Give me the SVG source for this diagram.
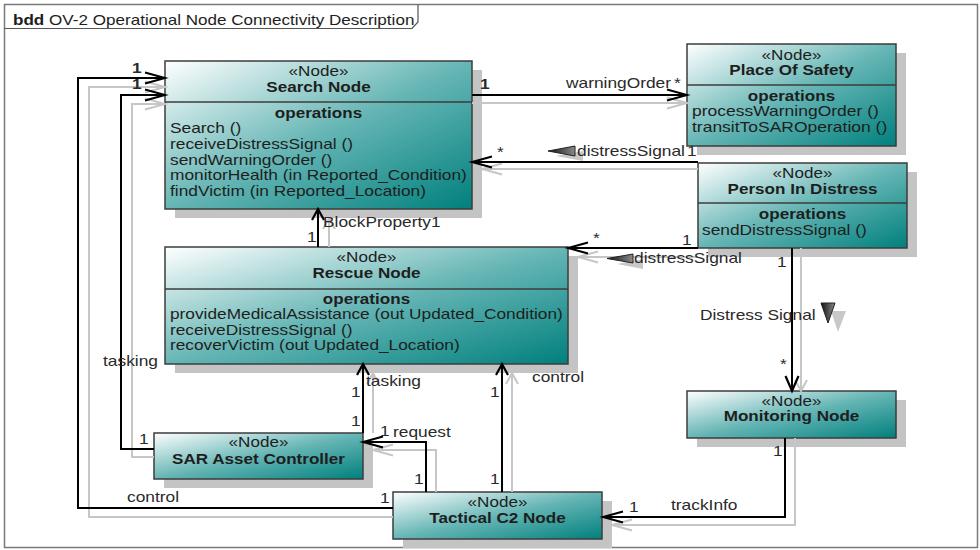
<svg xmlns="http://www.w3.org/2000/svg" width="980" height="550" viewBox="0 0 980 550">
<defs>
<linearGradient id="gNode" x1="0" y1="0" x2="1" y2="1">
<stop offset="0" stop-color="#ffffff"/>
<stop offset="0.5" stop-color="#66b6b5"/>
<stop offset="1" stop-color="#00807d"/>
</linearGradient>
<linearGradient id="gTri" x1="0" y1="0" x2="1" y2="0">
<stop offset="0" stop-color="#111111"/>
<stop offset="1" stop-color="#8a8a8a"/>
</linearGradient>
<marker id="ah" markerUnits="userSpaceOnUse" orient="auto" overflow="visible" refX="0" refY="0" markerWidth="1" markerHeight="1">
<path d="M-20,-5.5 L0,0 L-20,5.5" fill="none" stroke="#000" stroke-width="2"/>
</marker>
<marker id="av" markerUnits="userSpaceOnUse" orient="auto" overflow="visible" refX="0" refY="0" markerWidth="1" markerHeight="1">
<path d="M-11,-6 L0,0 L-11,6" fill="none" stroke="#000" stroke-width="2.2"/>
</marker>
<marker id="avl" markerUnits="userSpaceOnUse" orient="auto" overflow="visible" refX="0" refY="0" markerWidth="1" markerHeight="1">
<path d="M-15,-6.5 L0,0 L-15,6.5" fill="none" stroke="#000" stroke-width="2.2"/>
</marker>
<marker id="ahg" markerUnits="userSpaceOnUse" orient="auto" overflow="visible" refX="0" refY="0" markerWidth="1" markerHeight="1">
<path d="M-20,-5.5 L0,0 L-20,5.5" fill="none" stroke="#c6c6c6" stroke-width="2"/>
</marker>
<marker id="avg" markerUnits="userSpaceOnUse" orient="auto" overflow="visible" refX="0" refY="0" markerWidth="1" markerHeight="1">
<path d="M-11,-6 L0,0 L-11,6" fill="none" stroke="#c6c6c6" stroke-width="2"/>
</marker>
</defs>
<style>
.t { font-family: "Liberation Sans", Arial, sans-serif; font-size: 14px; fill: #1e1e1e; }
.b { font-weight: bold; }
.m { text-anchor: middle; }
.lbl { font-family: "Liberation Sans", Arial, sans-serif; font-size: 14px; fill: #2a2a2a; }
.box { fill: url(#gNode); stroke: #3c3c3c; stroke-width: 1.5; }
.shd { fill: #c4c4c4; }
.div { stroke: #3c3c3c; stroke-width: 1.5; }
.ln { fill: none; stroke: #000; stroke-width: 2; }
.sh { fill: none; stroke: #c6c6c6; stroke-width: 2; }
.tri { fill: url(#gTri); stroke: #222; stroke-width: 1; }
.trs { fill: #c8c8c8; }
</style>
<rect x="0" y="0" width="980" height="550" fill="#ffffff"/>
<g id="frame">
<rect x="4.5" y="4.5" width="973" height="543" fill="#ffffff" stroke="#7a7a7a" stroke-width="1.5"/>
<path d="M4.5,28.5 H412 L418,22 V4.5" fill="none" stroke="#555" stroke-width="1.2"/>
<text class="t" transform="translate(13 24.5) scale(1.22 1)"><tspan class="b">bdd</tspan> OV-2 Operational Node Connectivity Description</text>
</g>

<g id="node-search">
<rect class="shd" x="175" y="70" width="307" height="148"/>
<rect class="box" x="165" y="61" width="307" height="148"/>
<line class="div" x1="165" y1="102" x2="472" y2="102"/>
<text class="t m" transform="translate(318.5 76) scale(1.22 1)">«Node»</text>
<text class="t m b" transform="translate(318.5 92) scale(1.22 1)">Search Node</text>
<text class="t m b" transform="translate(318.5 117.5) scale(1.22 1)">operations</text>
<text class="t" transform="translate(170 133) scale(1.24 1)">Search ()</text>
<text class="t" transform="translate(170 148.75) scale(1.24 1)">receiveDistressSignal ()</text>
<text class="t" transform="translate(170 164.5) scale(1.24 1)">sendWarningOrder ()</text>
<text class="t" transform="translate(170 180.25) scale(1.24 1)">monitorHealth (in Reported_Condition)</text>
<text class="t" transform="translate(170 196) scale(1.24 1)">findVictim (in Reported_Location)</text>
</g>

<g id="node-safety">
<rect class="shd" x="697" y="53" width="209" height="102"/>
<rect class="box" x="687" y="44" width="209" height="102"/>
<line class="div" x1="687" y1="85" x2="896" y2="85"/>
<text class="t m" transform="translate(791.5 59.5) scale(1.22 1)">«Node»</text>
<text class="t m b" transform="translate(791.5 74.5) scale(1.22 1)">Place Of Safety</text>
<text class="t m b" transform="translate(791.5 100.5) scale(1.22 1)">operations</text>
<text class="t" transform="translate(692 116) scale(1.25 1)">processWarningOrder ()</text>
<text class="t" transform="translate(692 131.7) scale(1.25 1)">transitToSAROperation ()</text>
</g>

<g id="node-distress">
<rect class="shd" x="708" y="172" width="209" height="85"/>
<rect class="box" x="698" y="163" width="209" height="85"/>
<line class="div" x1="698" y1="203" x2="907" y2="203"/>
<text class="t m" transform="translate(802.5 178) scale(1.22 1)">«Node»</text>
<text class="t m b" transform="translate(802.5 193.5) scale(1.22 1)">Person In Distress</text>
<text class="t m b" transform="translate(802.5 218.5) scale(1.22 1)">operations</text>
<text class="t" transform="translate(702 235) scale(1.24 1)">sendDistressSignal ()</text>
</g>

<g id="node-rescue">
<rect class="shd" x="175" y="256" width="403" height="117"/>
<rect class="box" x="165" y="247" width="403" height="117"/>
<line class="div" x1="165" y1="289" x2="568" y2="289"/>
<text class="t m" transform="translate(366.5 262) scale(1.22 1)">«Node»</text>
<text class="t m b" transform="translate(366.5 277.7) scale(1.22 1)">Rescue Node</text>
<text class="t m b" transform="translate(366.5 303.5) scale(1.22 1)">operations</text>
<text class="t" transform="translate(170 319) scale(1.235 1)">provideMedicalAssistance (out Updated_Condition)</text>
<text class="t" transform="translate(170 334.5) scale(1.235 1)">receiveDistressSignal ()</text>
<text class="t" transform="translate(170 350) scale(1.235 1)">recoverVictim (out Updated_Location)</text>
</g>

<g id="node-sar">
<rect class="shd" x="164" y="442" width="209" height="46"/>
<rect class="box" x="154" y="433" width="209" height="46"/>
<text class="t m" transform="translate(258.5 447) scale(1.22 1)">«Node»</text>
<text class="t m b" transform="translate(258.5 463.5) scale(1.22 1)">SAR Asset Controller</text>
</g>

<g id="node-tactical">
<rect class="shd" x="403" y="501" width="209" height="47"/>
<rect class="box" x="393" y="492" width="209" height="47"/>
<text class="t m" transform="translate(497.5 507) scale(1.22 1)">«Node»</text>
<text class="t m b" transform="translate(497.5 523) scale(1.22 1)">Tactical C2 Node</text>
</g>

<g id="node-monitoring">
<rect class="shd" x="697" y="400" width="209" height="47"/>
<rect class="box" x="687" y="391" width="209" height="47"/>
<text class="t m" transform="translate(791.5 405.7) scale(1.22 1)">«Node»</text>
<text class="t m b" transform="translate(791.5 421) scale(1.22 1)">Monitoring Node</text>
</g>

<g id="connectors">
<g id="connector-shadows">
<polyline class="sh" points="393,517 89,517 89,87 165,87" marker-end="url(#ahg)"/>
<polyline class="sh" points="154,457 132,457 132,104 165,104" marker-end="url(#ahg)"/>
<polyline class="sh" points="472,103 687,103" marker-end="url(#ahg)"/>
<polyline class="sh" points="698,169 482,169" marker-end="url(#ahg)"/>
<polyline class="sh" points="698,257 578,257" marker-end="url(#ahg)"/>
<polyline class="sh" points="801,248 801,391" marker-end="url(#avg)"/>
<polyline class="sh" points="795,438 795,525 612,525" marker-end="url(#ahg)"/>
<polyline class="sh" points="329,247 329,218" marker-end="url(#avg)"/>
<polyline class="sh" points="373,433 373,373" marker-end="url(#avg)"/>
<polyline class="sh" points="436,492 436,450 373,450" marker-end="url(#ahg)"/>
<polyline class="sh" points="512,492 512,373" marker-end="url(#avg)"/>
</g>
<g id="connector-lines">
<polyline id="c-control-search" class="ln" points="393,508 78,508 78,78 165,78" marker-end="url(#ah)"/>
<polyline id="c-tasking-search" class="ln" points="154,449 121,449 121,95 165,95" marker-end="url(#ah)"/>
<polyline id="c-warningOrder" class="ln" points="472,95 687,95" marker-end="url(#ah)"/>
<polyline id="c-distress-search" class="ln" points="698,162 472,162" marker-end="url(#ah)"/>
<polyline id="c-distress-rescue" class="ln" points="698,248 568,248" marker-end="url(#ah)"/>
<polyline id="c-distress-monitoring" class="ln" points="792,248 792,391" marker-end="url(#avl)"/>
<polyline id="c-trackInfo" class="ln" points="785,438 785,517 603,517" marker-end="url(#ah)"/>
<polyline id="c-blockproperty" class="ln" points="318,247 318,209" marker-end="url(#av)"/>
<polyline id="c-tasking-rescue" class="ln" points="363,433 363,364" marker-end="url(#av)"/>
<polyline id="c-request" class="ln" points="426,492 426,442 363,442" marker-end="url(#ah)"/>
<polyline id="c-control-rescue" class="ln" points="502,492 502,364" marker-end="url(#av)"/>
</g>
<g id="direction-marks">
<polygon class="trs" points="556,156 583,151 583,161"/>
<polygon class="tri" points="548,151 575,146 575,156"/>
<polygon class="trs" points="617,264 643,259 643,269"/>
<polygon class="tri" points="607,258.5 633,254 633,263"/>
<polygon class="trs" points="831,311 846,311 838,332"/>
<polygon class="tri" points="821,303 835,303 828,323"/>
</g>
<g id="connector-labels">
<text class="lbl b" transform="translate(132 73) scale(1.24 1)">1</text>
<text class="lbl b" transform="translate(132 89) scale(1.24 1)">1</text>
<text class="lbl b" transform="translate(480 89) scale(1.24 1)">1</text>
<text class="lbl" transform="translate(566 87.5) scale(1.24 1)">warningOrder</text>
<text class="lbl" transform="translate(674 88) scale(1.24 1)">*</text>
<text class="lbl" transform="translate(497 157) scale(1.24 1)">*</text>
<text class="lbl" transform="translate(577 156) scale(1.24 1)">distressSignal</text>
<text class="lbl" transform="translate(687 156) scale(1.24 1)">1</text>
<text class="lbl" transform="translate(593 243) scale(1.24 1)">*</text>
<text class="lbl" transform="translate(682 245) scale(1.24 1)">1</text>
<text class="lbl" transform="translate(634 263) scale(1.24 1)">distressSignal</text>
<text class="lbl" transform="translate(777 267) scale(1.24 1)">1</text>
<text class="lbl" transform="translate(700 320) scale(1.24 1)">Distress Signal</text>
<text class="lbl" transform="translate(780 369) scale(1.24 1)">*</text>
<text class="lbl" transform="translate(773 456) scale(1.24 1)">1</text>
<text class="lbl" transform="translate(671 509.5) scale(1.24 1)">trackInfo</text>
<text class="lbl" transform="translate(629 512) scale(1.24 1)">1</text>
<text class="lbl" transform="translate(323 227) scale(1.24 1)">BlockProperty1</text>
<text class="lbl" transform="translate(307 242) scale(1.24 1)">1</text>
<text class="lbl" transform="translate(366 385.5) scale(1.24 1)">tasking</text>
<text class="lbl" transform="translate(351 397) scale(1.24 1)">1</text>
<text class="lbl" transform="translate(351 426) scale(1.24 1)">1</text>
<text class="lbl" transform="translate(393 437) scale(1.24 1)">request</text>
<text class="lbl" transform="translate(380 436) scale(1.24 1)">1</text>
<text class="lbl" transform="translate(414 484) scale(1.24 1)">1</text>
<text class="lbl" transform="translate(490 397) scale(1.24 1)">1</text>
<text class="lbl" transform="translate(490 484) scale(1.24 1)">1</text>
<text class="lbl" transform="translate(532 382) scale(1.24 1)">control</text>
<text class="lbl" transform="translate(127 502) scale(1.24 1)">control</text>
<text class="lbl" transform="translate(380 503) scale(1.24 1)">1</text>
<text class="lbl" transform="translate(139 444) scale(1.24 1)">1</text>
<text class="lbl" transform="translate(103 366) scale(1.24 1)">tasking</text>
</g>
</g>
</svg>
